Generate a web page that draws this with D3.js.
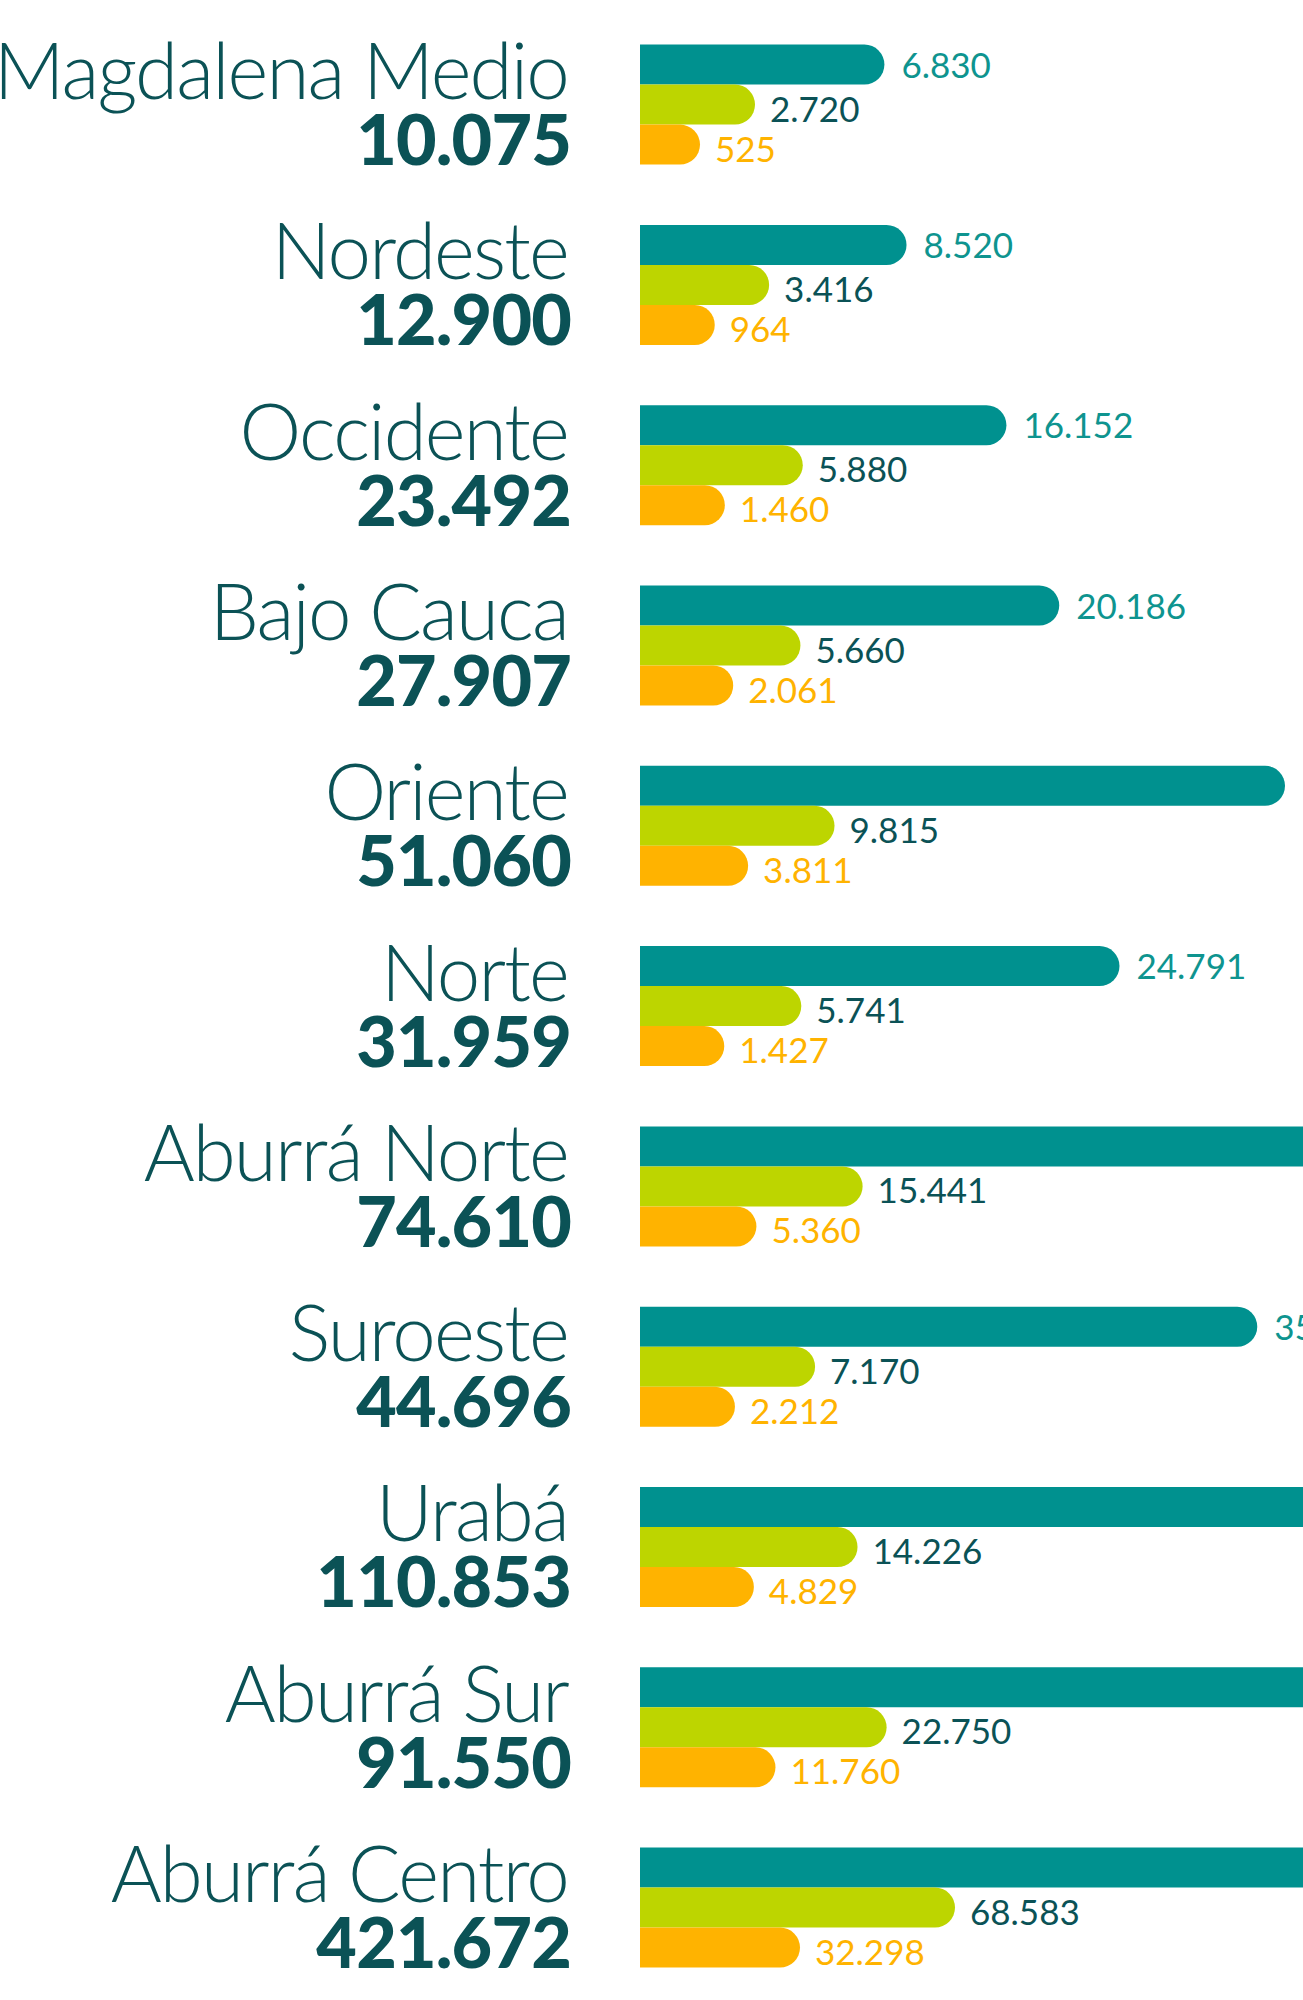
<!DOCTYPE html>
<html>
<head>
<meta charset="utf-8">
<script src="https://cdn.jsdelivr.net/npm/d3@7"></script>
<style>
  html, body { margin: 0; padding: 0; background: #fff; overflow: hidden; }
  svg { display: block; }
</style>
</head>
<body>
<div id="chart"></div>
<script>
// values (clipped teal values = total - lime - orange)
const regions = ["Magdalena Medio", "Nordeste", "Occidente", "Bajo Cauca", "Oriente", "Norte",
                 "Aburrá Norte", "Suroeste", "Urabá", "Aburrá Sur", "Aburrá Centro"];
const totals = [10075, 12900, 23492, 27907, 51060, 31959, 74610, 44696, 110853, 91550, 421672];
const tealValues = [6830, 8520, 16152, 20186, 37434, 24791, 53809, 35314, 91798, 57040, 320791];
const limeValues = [2720, 3416, 5880, 5660, 9815, 5741, 15441, 7170, 14226, 22750, 68583];
const orangeValues = [525, 964, 1460, 2061, 3811, 1427, 5360, 2212, 4829, 11760, 32298];
const seriesKeys = ["teal", "lime", "orange"];

const width = 1303;
const height = 2000;
const barX = 640;
const labelX = 568;

const colors = { teal: "#00918f", lime: "#bdd500", orange: "#ffb300" };
const labelColors = { teal: "#0e948f", lime: "#0b5256", orange: "#ffb300" };
const labelGap = { teal: 17, lime: 15, orange: 15 };
const labelShift = { teal: -1, lime: 3, orange: 3 };
const dark = "#0b5256";

const es = d3.formatLocale({ decimal: ",", thousands: ".", grouping: [3], currency: ["$", ""] });
const fmt = es.format(",d");

const rows = regions.map((name, i) => ({
  name,
  total: totals[i],
  teal: tealValues[i],
  lime: limeValues[i],
  orange: orangeValues[i]
}));

const svg = d3.select("#chart")
  .append("svg")
    .attr("width", width)
    .attr("height", height)
    .attr("viewBox", `0 0 ${width} ${height}`);

// one band per region, three stacked bars inside it
const y = d3.scaleBand()
  .domain(regions)
  .range([44.6, 1967.6])
  .paddingInner(0.3344)
  .paddingOuter(0);

const ySub = d3.scaleBand()
  .domain(seriesKeys)
  .range([0, y.bandwidth()]);

// the bars are not drawn to one common scale in the original, so each series has its own
const lengths = {
  teal: d3.scaleLinear().domain([0, 37434]).range([155, 645]),
  lime: d3.scaleLog().domain([2720, 68583]).range([115, 315]),
  orange: d3.scaleLog().domain([525, 32298]).range([60, 160])
};

function barPath(x0, x1, top, h) {
  const r = h / 2;
  return `M${x0},${top}H${x1 - r}A${r},${r} 0 0 1 ${x1 - r},${top + h}H${x0}Z`;
}

const group = svg.selectAll("g.region")
  .data(rows)
  .join("g")
    .attr("class", "region")
    .attr("transform", d => `translate(0,${y(d.name)})`);

group.append("text")
    .attr("x", labelX)
    .attr("y", 54.5)
    .attr("text-anchor", "end")
    .attr("fill", dark)
    .style("font-family", "Lato, 'Open Sans', sans-serif")
    .style("font-weight", 300)
    .style("font-size", "78px")
    .style("letter-spacing", "-1.8px")
    .text(d => d.name);

group.append("text")
    .attr("x", labelX + 3)
    .attr("y", 120.5)
    .attr("text-anchor", "end")
    .attr("fill", dark)
    .style("font-family", "Lato, 'Open Sans', sans-serif")
    .style("font-weight", 900)
    .style("font-size", "70px")
    .style("letter-spacing", "-0.8px")
    .text(d => fmt(d.total));

const bars = group.selectAll("g.bar")
  .data(d => seriesKeys.map(key => ({ key, value: d[key] })))
  .join("g")
    .attr("class", "bar")
    .attr("transform", d => `translate(0,${ySub(d.key)})`);

bars.append("path")
    .attr("fill", d => colors[d.key])
    .attr("d", d => barPath(barX, barX + lengths[d.key](d.value), 0, ySub.bandwidth()));

bars.append("text")
    .attr("x", d => barX + lengths[d.key](d.value) + labelGap[d.key])
    .attr("y", d => ySub.bandwidth() / 2 + labelShift[d.key])
    .attr("dominant-baseline", "central")
    .attr("fill", d => labelColors[d.key])
    .style("font-family", "Lato, 'Open Sans', sans-serif")
    .style("font-weight", 400)
    .style("font-size", "35px")
    .text(d => fmt(d.value));
</script>
</body>
</html>
